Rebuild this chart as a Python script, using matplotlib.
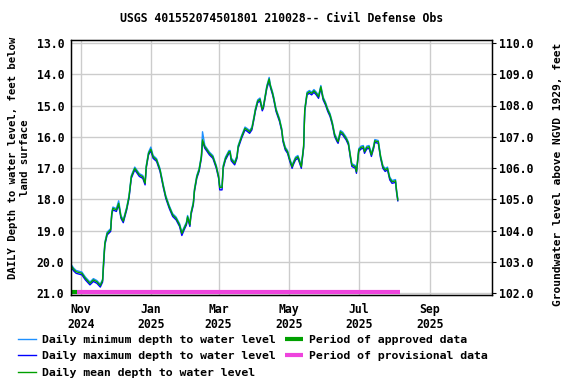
import matplotlib
matplotlib.use("Agg")
import matplotlib.pyplot as plt
import pandas as pd

# data
dates = [
    "2024-10-24", "2024-10-26", "2024-10-28", "2024-11-02", "2024-11-05", "2024-11-09",
    "2024-11-12", "2024-11-15", "2024-11-18", "2024-11-20", "2024-11-21", "2024-11-22",
    "2024-11-24", "2024-11-27", "2024-11-28", "2024-11-29", "2024-12-02", "2024-12-04",
    "2024-12-06", "2024-12-08", "2024-12-11", "2024-12-13", "2024-12-15", "2024-12-18",
    "2024-12-19", "2024-12-22", "2024-12-25", "2024-12-27", "2024-12-28", "2024-12-30",
    "2025-01-01", "2025-01-03", "2025-01-06", "2025-01-09", "2025-01-12", "2025-01-14",
    "2025-01-17", "2025-01-20", "2025-01-23", "2025-01-26", "2025-01-28", "2025-01-30",
    "2025-02-01", "2025-02-02", "2025-02-04", "2025-02-05", "2025-02-07", "2025-02-08",
    "2025-02-10", "2025-02-12", "2025-02-14", "2025-02-15", "2025-02-17", "2025-02-18",
    "2025-02-21", "2025-02-24", "2025-02-27", "2025-03-01", "2025-03-02", "2025-03-04",
    "2025-03-05", "2025-03-07", "2025-03-10", "2025-03-11", "2025-03-12", "2025-03-15",
    "2025-03-17", "2025-03-18", "2025-03-21", "2025-03-24", "2025-03-26", "2025-03-28",
    "2025-03-30", "2025-04-01", "2025-04-02", "2025-04-04", "2025-04-06", "2025-04-08",
    "2025-04-09", "2025-04-11", "2025-04-12", "2025-04-14", "2025-04-15", "2025-04-17",
    "2025-04-18", "2025-04-20", "2025-04-23", "2025-04-25", "2025-04-26", "2025-04-28",
    "2025-04-30", "2025-05-02", "2025-05-04", "2025-05-05", "2025-05-07", "2025-05-09",
    "2025-05-10", "2025-05-12", "2025-05-14", "2025-05-15", "2025-05-17", "2025-05-19",
    "2025-05-21", "2025-05-23", "2025-05-25", "2025-05-27", "2025-05-29", "2025-05-31",
    "2025-06-02", "2025-06-04", "2025-06-06", "2025-06-08", "2025-06-10", "2025-06-12",
    "2025-06-13", "2025-06-15", "2025-06-17", "2025-06-20", "2025-06-22", "2025-06-24",
    "2025-06-25", "2025-06-28", "2025-06-29", "2025-07-01", "2025-07-03", "2025-07-05",
    "2025-07-06", "2025-07-08", "2025-07-10", "2025-07-12", "2025-07-14", "2025-07-15",
    "2025-07-18", "2025-07-20", "2025-07-22", "2025-07-24", "2025-07-26", "2025-07-28",
    "2025-07-30", "2025-08-02", "2025-08-03", "2025-08-04",
]

depth_mean = [
    20.15, 20.25, 20.32, 20.37, 20.53, 20.69, 20.58, 20.64, 20.76, 20.60, 19.94, 19.41,
    19.09, 18.98, 18.45, 18.29, 18.34, 18.13, 18.56, 18.70, 18.29, 17.92, 17.28, 17.01,
    17.06, 17.22, 17.28, 17.49, 16.96, 16.53, 16.40, 16.64, 16.74, 17.06, 17.60, 17.92,
    18.24, 18.50, 18.61, 18.82, 19.09, 18.93, 18.77, 18.56, 18.82, 18.45, 18.13, 17.70,
    17.28, 17.06, 16.64, 16.10, 16.32, 16.37, 16.53, 16.64, 16.96, 17.28, 17.62, 17.62,
    16.96, 16.69, 16.48, 16.48, 16.72, 16.85, 16.64, 16.32, 16.00, 15.73, 15.78, 15.84,
    15.73, 15.35, 15.14, 14.86, 14.80, 15.12, 15.04, 14.61, 14.40, 14.15, 14.36, 14.61,
    14.77, 15.14, 15.46, 15.78, 16.10, 16.37, 16.48, 16.74, 16.96, 16.85, 16.69, 16.64,
    16.74, 16.96, 16.32, 15.14, 14.61, 14.56, 14.61, 14.53, 14.61, 14.72, 14.40, 14.77,
    14.93, 15.14, 15.30, 15.57, 15.94, 16.10, 16.16, 15.84, 15.89, 16.05, 16.21, 16.69,
    16.90, 16.96, 17.12, 16.42, 16.34, 16.32, 16.48, 16.34, 16.32, 16.58, 16.32, 16.13,
    16.16, 16.64, 16.96, 17.06, 17.01, 17.33, 17.44, 17.41, 17.76, 18.02,
]

depth_min = [
    20.11, 20.21, 20.28, 20.33, 20.49, 20.65, 20.54, 20.60, 20.72, 20.56, 19.85, 19.37,
    19.05, 18.94, 18.41, 18.25, 18.30, 18.05, 18.52, 18.66, 18.25, 17.88, 17.24, 16.97,
    17.02, 17.18, 17.24, 17.45, 16.92, 16.49, 16.33, 16.60, 16.70, 17.02, 17.56, 17.88,
    18.20, 18.46, 18.57, 18.78, 19.05, 18.89, 18.73, 18.52, 18.78, 18.41, 18.09, 17.66,
    17.24, 17.02, 16.60, 15.84, 16.28, 16.33, 16.49, 16.60, 16.92, 17.24, 17.58, 17.58,
    16.92, 16.65, 16.44, 16.44, 16.68, 16.81, 16.60, 16.28, 15.96, 15.69, 15.74, 15.80,
    15.69, 15.31, 15.10, 14.82, 14.76, 15.08, 15.00, 14.57, 14.36, 14.10, 14.32, 14.57,
    14.73, 15.10, 15.42, 15.74, 16.06, 16.33, 16.44, 16.70, 16.92, 16.81, 16.65, 16.60,
    16.70, 16.92, 16.28, 15.10, 14.57, 14.52, 14.57, 14.49, 14.57, 14.68, 14.36, 14.73,
    14.89, 15.10, 15.26, 15.53, 15.90, 16.06, 16.12, 15.80, 15.85, 16.01, 16.17, 16.65,
    16.86, 16.92, 17.08, 16.38, 16.30, 16.28, 16.44, 16.30, 16.28, 16.54, 16.28, 16.09,
    16.12, 16.60, 16.92, 17.02, 16.97, 17.29, 17.40, 17.37, 17.72, 17.98,
]

depth_max = [
    20.20, 20.30, 20.37, 20.42, 20.58, 20.74, 20.63, 20.69, 20.81, 20.65, 20.05, 19.46,
    19.14, 19.03, 18.50, 18.34, 18.39, 18.18, 18.61, 18.75, 18.34, 17.97, 17.33, 17.06,
    17.11, 17.27, 17.33, 17.54, 17.01, 16.58, 16.45, 16.69, 16.79, 17.11, 17.65, 17.97,
    18.29, 18.55, 18.66, 18.87, 19.16, 18.98, 18.82, 18.61, 18.87, 18.50, 18.18, 17.75,
    17.33, 17.11, 16.69, 16.15, 16.37, 16.42, 16.58, 16.69, 17.01, 17.33, 17.70, 17.70,
    17.01, 16.74, 16.53, 16.53, 16.77, 16.90, 16.69, 16.37, 16.05, 15.78, 15.83, 15.89,
    15.78, 15.40, 15.19, 14.91, 14.85, 15.17, 15.09, 14.66, 14.45, 14.22, 14.41, 14.66,
    14.82, 15.19, 15.51, 15.83, 16.15, 16.42, 16.53, 16.79, 17.01, 16.90, 16.74, 16.69,
    16.79, 17.01, 16.37, 15.19, 14.66, 14.61, 14.66, 14.58, 14.66, 14.77, 14.45, 14.82,
    14.98, 15.19, 15.35, 15.62, 15.99, 16.15, 16.21, 15.89, 15.94, 16.10, 16.26, 16.74,
    16.95, 17.01, 17.17, 16.47, 16.39, 16.37, 16.53, 16.39, 16.37, 16.63, 16.37, 16.18,
    16.21, 16.69, 17.01, 17.11, 17.06, 17.38, 17.49, 17.46, 17.81, 18.05,
]

approved_period = ["2024-10-23", "2024-10-29"]
provisional_period = ["2024-10-29", "2025-08-06"]

datum_offset = 123.0  # elevation = offset - depth
depth_ticks = [13, 14, 15, 16, 17, 18, 19, 20, 21]
elev_ticks = [102, 103, 104, 105, 106, 107, 108, 109, 110]
month_ticks = ["2024-11-01", "2025-01-01", "2025-03-01", "2025-05-01", "2025-07-01", "2025-09-01"]
month_labels = ["Nov\n2024", "Jan\n2025", "Mar\n2025", "May\n2025", "Jul\n2025", "Sep\n2025"]

t = pd.to_datetime(dates)
fs = 8.3
plt.rcParams["font.family"] = "DejaVu Sans Mono"
plt.rcParams["font.weight"] = "bold"

fig = plt.figure(figsize=(5.76, 3.84), dpi=100)
ax = fig.add_axes([71 / 576, 1 - 295 / 384, 421 / 576, 255 / 384])

ax.plot(t, depth_max, color="#0000ff", lw=1, label="Daily maximum depth to water level")
ax.plot(t, depth_min, color="#1e90ff", lw=1, label="Daily minimum depth to water level")
ax.plot(t, depth_mean, color="#00a000", lw=1, label="Daily mean depth to water level")

bar_y = 20.96
ax.plot(pd.to_datetime(approved_period), [bar_y, bar_y], color="#00a000", lw=3,
        solid_capstyle="butt", label="Period of approved data")
ax.plot(pd.to_datetime(provisional_period), [bar_y, bar_y], color="#ee44dd", lw=3,
        solid_capstyle="butt", label="Period of provisional data")

ax.set_xlim(pd.Timestamp("2024-10-23 12:00"), pd.Timestamp("2025-10-25"))
ax.set_ylim(21.064, 12.904)
ax.set_yticks(depth_ticks)
ax.set_yticklabels([f"{v:.1f}" for v in depth_ticks])
ax.set_xticks(pd.to_datetime(month_ticks))
ax.set_xticklabels(month_labels)
ax.grid(True, color="#cccccc", lw=1)
ax.set_axisbelow(True)
ax.tick_params(axis="both", length=0, labelsize=fs, pad=5)
ax.tick_params(axis="x", pad=6)
for s in ax.spines.values():
    s.set_linewidth(1)

ax2 = ax.twinx()
ax2.set_ylim(datum_offset - 21.064, datum_offset - 12.904)
ax2.set_yticks(elev_ticks)
ax2.set_yticklabels([f"{v:.1f}" for v in elev_ticks])
ax2.tick_params(axis="y", length=3, labelsize=fs, pad=2)

fig.text(281.5 / 576, 1 - 19 / 384, "USGS 401552074501801 210028-- Civil Defense Obs",
         ha="center", va="center", fontsize=fs)
fig.text(19 / 576, 1 - 158 / 384, "DAILY Depth to water level, feet below\nland surface",
         rotation=90, ha="center", va="center", multialignment="center", fontsize=7.7,
         linespacing=1.2)
fig.text(558 / 576, 1 - 174 / 384, "Groundwater level above NGVD 1929, feet",
         rotation=90, ha="center", va="center", fontsize=8.1)

h, l = ax.get_legend_handles_labels()
order = [1, 0, 2, 3, 4]
fig.legend([h[i] for i in order], [l[i] for i in order], ncol=2, loc="upper left",
           bbox_to_anchor=(18 / 576, 1 - 335 / 384), frameon=False, fontsize=8.25,
           handlelength=1.6, handletextpad=0.5, columnspacing=0.8, labelspacing=0.55,
           borderpad=0, borderaxespad=0)

fig.savefig("out.png", dpi=100)
